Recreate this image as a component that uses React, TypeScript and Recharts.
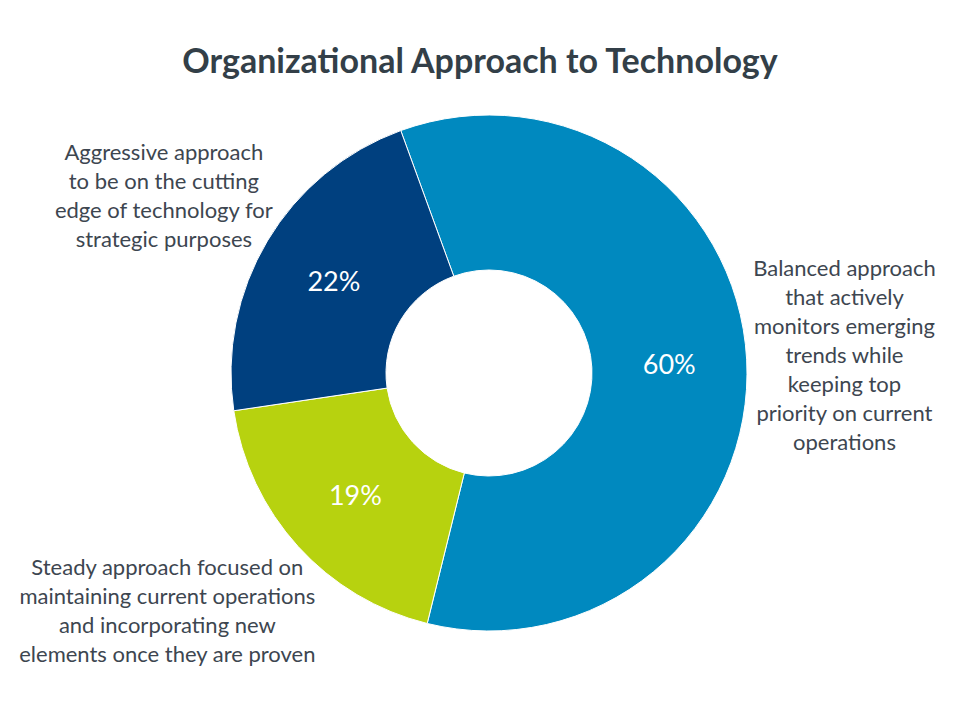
import React from 'react';
import { PieChart, Pie, Cell } from 'recharts';

const categories = ['Balanced', 'Steady', 'Aggressive'];
const shares = [60, 19, 22];
const labelLines = [
  [
    'Balanced approach',
    'that actively',
    'monitors emerging',
    'trends while',
    'keeping top',
    'priority on current',
    'operations',
  ],
  [
    'Steady approach focused on',
    'maintaining current operations',
    'and incorporating new',
    'elements once they are proven',
  ],
  [
    'Aggressive approach',
    'to be on the cutting',
    'edge of technology for',
    'strategic purposes',
  ],
];

const COLORS = ['#0089BF', '#B7D20F', '#00407F'];
const FONT = 'Lato, "Open Sans", sans-serif';
const TEXT_COLOR = '#3D4650';
// distance from the centre to the middle of each outside label block
const OUTER_LABEL_R = [356, 399, 371];
const OUTER_LABEL_ANGLE_SHIFT = [0, -6, 2];
const LINE_H = 29;

const data = categories.map((name, i) => ({ name, value: shares[i], lines: labelLines[i] }));

const RAD = Math.PI / 180;

const renderLabel = (props: any) => {
  const { cx, cy, midAngle, innerRadius, outerRadius, index, value } = props;
  const rIn = (innerRadius + outerRadius) / 2;
  const px = cx + rIn * Math.cos(-midAngle * RAD);
  const py = cy + rIn * Math.sin(-midAngle * RAD);

  const ang = (midAngle + OUTER_LABEL_ANGLE_SHIFT[index]) * RAD;
  const rOut = OUTER_LABEL_R[index];
  const lx = cx + rOut * Math.cos(-ang);
  const ly = cy + rOut * Math.sin(-ang);
  const lines: string[] = data[index].lines;
  const top = ly - ((lines.length - 1) * LINE_H) / 2;

  return (
    <g>
      <text
        x={px}
        y={py}
        fill="#ffffff"
        textAnchor="middle"
        dominantBaseline="central"
        fontFamily={FONT}
        fontSize={27}
      >
        {value}%
      </text>
      <text
        x={lx}
        y={top}
        fill={TEXT_COLOR}
        textAnchor="middle"
        dominantBaseline="central"
        fontFamily={FONT}
        fontSize={22}
      >
        {lines.map((t, i) => (
          <tspan key={i} x={lx} dy={i === 0 ? 0 : LINE_H}>
            {t}
          </tspan>
        ))}
      </text>
    </g>
  );
};

export default function App() {
  return (
    <div style={{ position: 'absolute', left: 0, top: 0, width: 960, height: 720, background: '#fff' }}>
      <div
        style={{
          position: 'absolute',
          left: 0,
          top: 39,
          width: 960,
          textAlign: 'center',
          fontFamily: FONT,
          fontWeight: 700,
          fontSize: 34,
          lineHeight: '42px',
          color: '#333F48',
        }}
      >
        Organizational Approach to Technology
      </div>
      <PieChart width={960} height={720} margin={{ top: 0, right: 0, bottom: 0, left: 0 }}>
        <Pie
          data={data}
          dataKey="value"
          nameKey="name"
          cx={489}
          cy={373}
          innerRadius={103}
          outerRadius={258}
          startAngle={110}
          endAngle={-250}
          stroke="#ffffff"
          strokeWidth={1}
          label={renderLabel}
          labelLine={false}
          isAnimationActive={false}
        >
          {data.map((d, i) => (
            <Cell key={d.name} fill={COLORS[i]} />
          ))}
        </Pie>
      </PieChart>
    </div>
  );
}
